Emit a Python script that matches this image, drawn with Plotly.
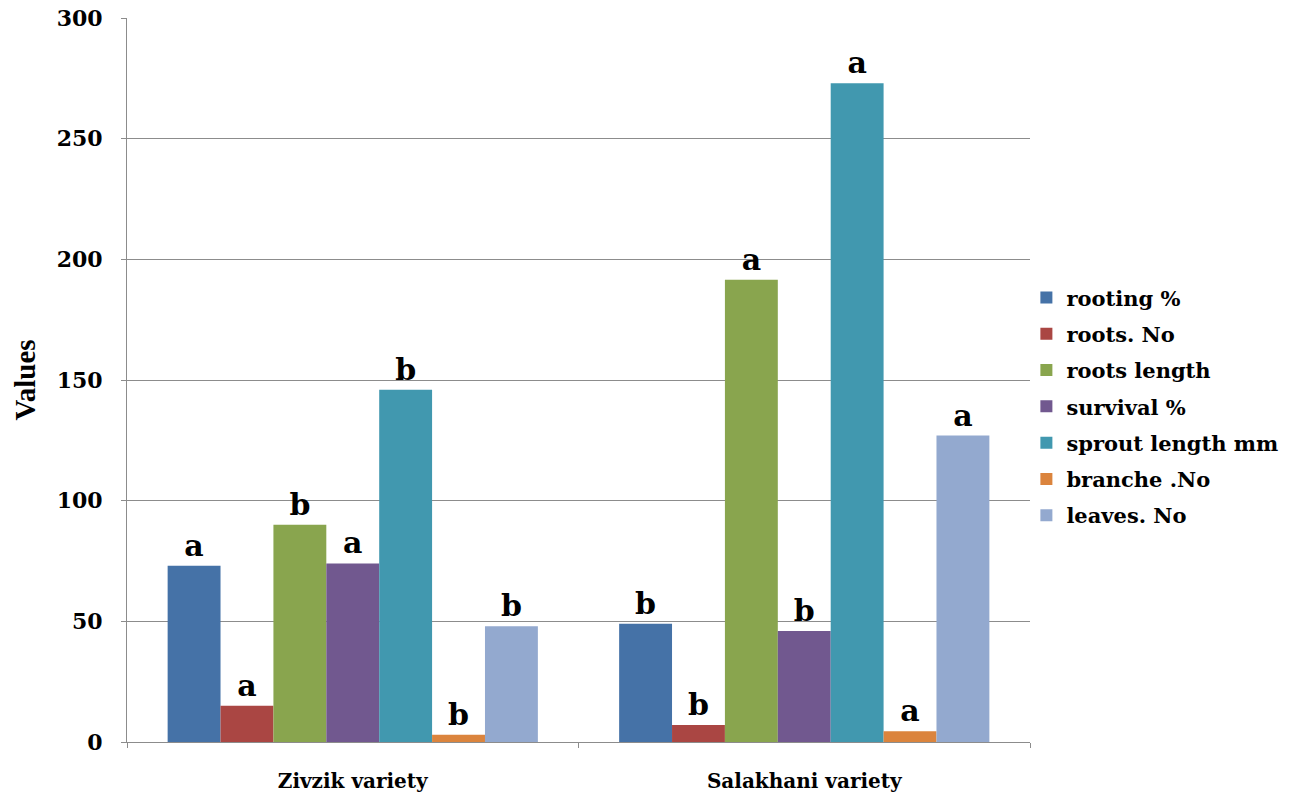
import plotly.graph_objects as go

# Varieties on the category axis
varieties = ["Zivzik variety", "Salakhani variety"]

# Measured traits (one bar series each)
traits = ["rooting %", "roots. No", "roots length", "survival %",
          "sprout length mm", "branche .No", "leaves. No"]

rooting_pct = [73, 49]
roots_no = [15, 7]
roots_length = [90, 191.5]
survival_pct = [74, 46]
sprout_length_mm = [146, 273]
branche_no = [3, 4.5]
leaves_no = [48, 127]

# Significance letters (Zivzik, Salakhani) per trait
letters_rooting = ["a", "b"]
letters_roots_no = ["a", "b"]
letters_roots_length = ["b", "a"]
letters_survival = ["a", "b"]
letters_sprout = ["b", "a"]
letters_branche = ["b", "a"]
letters_leaves = ["b", "a"]

series_values = [rooting_pct, roots_no, roots_length, survival_pct,
                 sprout_length_mm, branche_no, leaves_no]
series_letters = [letters_rooting, letters_roots_no, letters_roots_length,
                  letters_survival, letters_sprout, letters_branche, letters_leaves]
colors = ["#4572A7", "#AA4643", "#89A54E", "#71588F",
          "#4198AF", "#DB843D", "#93A9CF"]

WIDE = "DejaVu Serif"
SERIF = "Liberation Serif"

fig = go.Figure()
for name, vals, letters, col in zip(traits, series_values, series_letters, colors):
    fig.add_trace(go.Bar(
        x=varieties, y=vals, name=f"<b>{name}</b>", legendgroup=name,
        marker=dict(color=col, line=dict(width=0)),
        text=[f"<b>{t}</b>" for t in letters],
        textposition="outside",
        textfont=dict(family=WIDE, size=30, color="black"),
        cliponaxis=False,
    ))

fig.update_layout(
    width=1315, height=798,
    margin=dict(l=127, r=285, t=18, b=56),
    paper_bgcolor="white", plot_bgcolor="white",
    barmode="group", bargap=0.18, bargroupgap=0,
    uniformtext=dict(minsize=30, mode="show"),
    font=dict(family=WIDE, color="black"),
    showlegend=True,
    legend=dict(
        x=0.996, xanchor="left", y=0.463, yanchor="middle",
        font=dict(family=WIDE, size=21, color="black"),
        tracegroupgap=6, itemwidth=30,
        bgcolor="rgba(0,0,0,0)",
    ),
)

fig.update_yaxes(
    range=[0, 300], dtick=50, automargin=False,
    showgrid=True, gridcolor="#8c8c8c", gridwidth=1,
    showline=True, linecolor="#8c8c8c", linewidth=1,
    ticks="outside", ticklen=5, tickcolor="#8c8c8c",
    ticklabelstandoff=14,
    tickfont=dict(family=WIDE, size=22, color="black"),
    tickprefix="<b>", ticksuffix="</b>",
    zeroline=False,
    title=dict(text="<b>Values</b>", font=dict(family=SERIF, size=29, color="black"), standoff=12),
)
fig.update_xaxes(
    automargin=False,
    showline=True, linecolor="#8c8c8c", linewidth=1,
    ticks="outside", ticklen=5, tickcolor="#8c8c8c", tickson="boundaries",
    ticklabelstandoff=21,
    tickfont=dict(family=WIDE, size=20, color="black"),
    tickvals=varieties, ticktext=[f"<b>{v}</b>" for v in varieties],
    showgrid=False,
)

fig.write_html("out.html")
